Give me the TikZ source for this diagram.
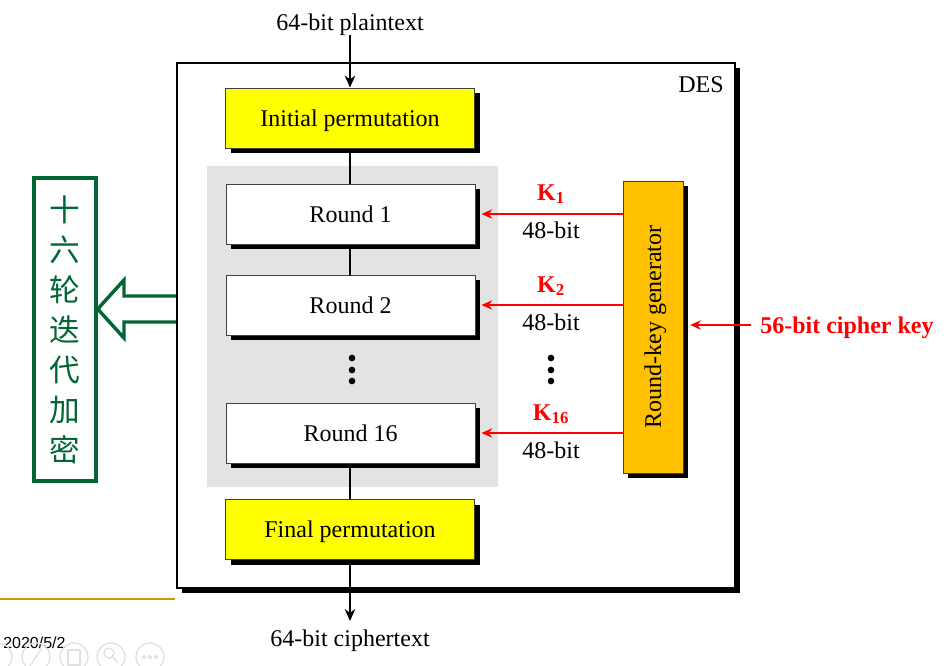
\documentclass[tikz,border=0pt]{standalone}
\usepackage{fontspec}
\setmainfont{Liberation Serif}
\newfontfamily\cjk{Noto Sans CJK SC}
\newfontfamily\uisans{Liberation Sans}
\usetikzlibrary{shadows,arrows.meta}
\definecolor{keyorange}{RGB}{255,192,0}
\definecolor{boxyellow}{RGB}{255,255,0}
\definecolor{dgreen}{RGB}{0,102,51}
\definecolor{goldline}{RGB}{204,153,0}
\definecolor{keyred}{RGB}{255,0,0}
\begin{document}
\begin{tikzpicture}[x=0.75pt,y=-0.75pt,
  capc/.style={text height=12pt, text depth=0pt},
  txt/.style={font=\fontsize{18}{21}\selectfont, inner sep=0pt, capc},
  shadowed/.style={drop shadow={shadow xshift=3.75pt, shadow yshift=-3.75pt, fill=black, opacity=1}},
  stagebox/.style={draw=black!75, line width=0.75pt, minimum width=186.75pt, minimum height=45pt,
     inner sep=0pt, font=\fontsize{18}{21}\selectfont, capc, shadowed},
  blackarrow/.style={line width=1.2pt, -{Stealth[length=9pt,width=8pt]}},
  link/.style={line width=1.2pt},
  redarrow/.style={draw=keyred, line width=1.5pt, -{Stealth[length=8pt,width=7pt]}},
  keylabel/.style={text=keyred, font=\fontsize{18}{21}\selectfont\bfseries, inner sep=0pt, capc},
  bitlabel/.style={font=\fontsize{18}{21}\selectfont, inner sep=0pt, capc},
  dot/.style={circle, fill=black, inner sep=0pt, minimum size=5pt},
  faint/.style={draw=black!12, line width=1pt}
]
\useasboundingbox (0,0) rectangle (946,665);

% DES frame
\node[draw=black, line width=1.5pt, fill=white, minimum width=418.5pt, minimum height=393.75pt,
      inner sep=0pt, drop shadow={shadow xshift=4pt, shadow yshift=-4pt, fill=black, opacity=1}]
      (des) at (456,325.5) {};
\node[txt, anchor=east] (deslabel) at (724,84) {DES};

% gray area
\fill[black!11] (207,166) rectangle (498,487);

% stage boxes
\node[stagebox, fill=boxyellow] (init) at (350,118) {Initial permutation};
\node[stagebox, fill=white] (r1) at (350.5,214) {Round 1};
\node[stagebox, fill=white] (r2) at (350.5,305) {Round 2};
\node[stagebox, fill=white] (r16) at (350.5,433) {Round 16};
\node[stagebox, fill=boxyellow] (final) at (350,529.5) {Final permutation};

% dots
\node[dot] (d1) at (352,358) {};
\node[dot] (d2) at (352,370) {};
\node[dot] (d3) at (352,381) {};
\node[dot] (e1) at (551,358) {};
\node[dot] (e2) at (551,370) {};
\node[dot] (e3) at (551,381) {};

% plaintext / ciphertext
\node[txt] (plain) at (350,22) {64-bit plaintext};
\node[txt] (cipher) at (350,638) {64-bit ciphertext};
\coordinate (ptop) at (350,35);
\coordinate (cend) at (350,621);
\draw[blackarrow] (ptop) -- (init.north);
\draw[link] (init.south) -- (r1.north -| init.south);
\draw[link] (r1.south -| init.south) -- (r2.north -| init.south);
\draw[link] (r16.south -| init.south) -- (final.north);
\draw[blackarrow] (final.south) -- (cend);

% round-key generator
\node[draw=black!75, line width=0.75pt, fill=keyorange, rotate=90, minimum width=219pt, minimum height=45pt,
      inner sep=0pt, font=\fontsize{18}{21}\selectfont, capc, shadowed] (rkg) at (653,327) {Round-key generator};

% key arrows
\draw[redarrow] (rkg.north |- r1.east) -- ([xshift=4.5pt]r1.east);
\draw[redarrow] (rkg.north |- r2.east) -- ([xshift=4.5pt]r2.east);
\draw[redarrow] (rkg.north |- r16.east) -- ([xshift=4.5pt]r16.east);
\node[keylabel] (k1) at (551,192) {K\textsubscript{1}};
\node[bitlabel] (b1) at (551,230) {48-bit};
\node[keylabel] (k2) at (551,284) {K\textsubscript{2}};
\node[bitlabel] (b2) at (551,322) {48-bit};
\node[keylabel] (k16) at (551,412) {K\textsubscript{16}};
\node[bitlabel] (b16) at (551,450) {48-bit};

% cipher key
\node[keylabel, anchor=west] (ckey) at (760,325) {56-bit cipher key};
\draw[redarrow] ([xshift=-7pt]ckey.west) -- ([xshift=5pt]rkg.south |- ckey.west);

% Chinese box
\node[draw=dgreen, line width=2.6pt, minimum width=46.5pt, minimum height=227pt, inner sep=0pt] (cn) at (65,329.5) {};
\node[text=dgreen, align=center, font=\cjk\fontsize{23}{30}\selectfont, inner sep=0pt] (cntext) at (65,330)
  {十\\六\\轮\\迭\\代\\加\\密};
\draw[dgreen, line width=2.6pt, line join=miter]
  (des.west |- 0,296) -- (124,296) -- (124,280) -- (cn.east |- 0,309) -- (124,338) -- (124,322) -- (des.west |- 0,322);

% bottom-left slide decorations
\draw[goldline, line width=1.5pt] (0,599) -- (175,599);
\node[font=\uisans\fontsize{12}{14}\selectfont, inner sep=0pt, anchor=west] (date) at (3,643) {2020/5/2};
\draw[faint] (-2,657) circle (14);
\draw[faint] (36,657) circle (14);
\draw[faint] (74,657) circle (14);
\draw[faint] (111,657) circle (14);
\draw[faint] (150,657) circle (14);
\draw[faint] (30,666) -- (42,648);
\draw[faint] (68,650) rectangle (80,665);
\draw[faint] (109,653) circle (5) (113,657) -- (118,663);
\draw[faint] (144,657) circle (1.5) (150,657) circle (1.5) (156,657) circle (1.5);
\end{tikzpicture}
\end{document}
